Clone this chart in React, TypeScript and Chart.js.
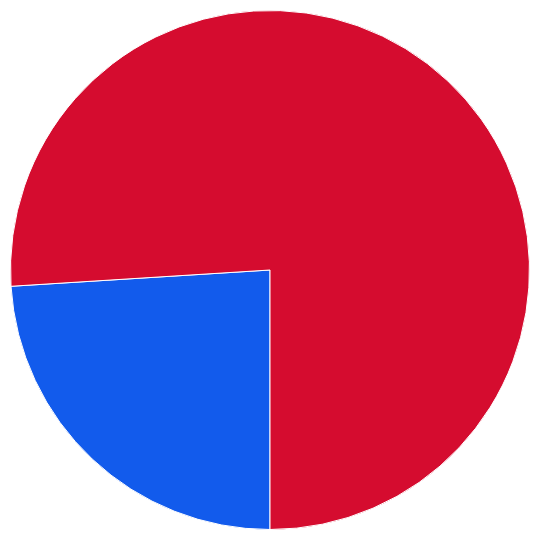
import React, { useEffect, useRef } from "react";
import { Chart, registerables } from "chart.js";

Chart.register(...registerables);

const labels = ["Blue", "Red"];
const values = [24, 76];
const colors = ["#125BEC", "#D50C2F"];

export default function App() {
  const ref = useRef<HTMLCanvasElement | null>(null);
  useEffect(() => {
    document.body.style.margin = "0";
    const chart = new Chart(ref.current!, {
      type: "pie",
      data: {
        labels,
        datasets: [
          {
            data: values,
            backgroundColor: colors,
            borderColor: "#ffffff",
            borderWidth: 1,
          },
        ],
      },
      options: {
        animation: false,
        responsive: false,
        rotation: 180,
        layout: { padding: 10 },
        plugins: { legend: { display: false }, tooltip: { enabled: false } },
      },
    });
    return () => chart.destroy();
  }, []);
  return (
    <div style={{ width: 540, height: 540 }}>
      <canvas ref={ref} width={540} height={540} style={{ width: 540, height: 540 }} />
    </div>
  );
}
